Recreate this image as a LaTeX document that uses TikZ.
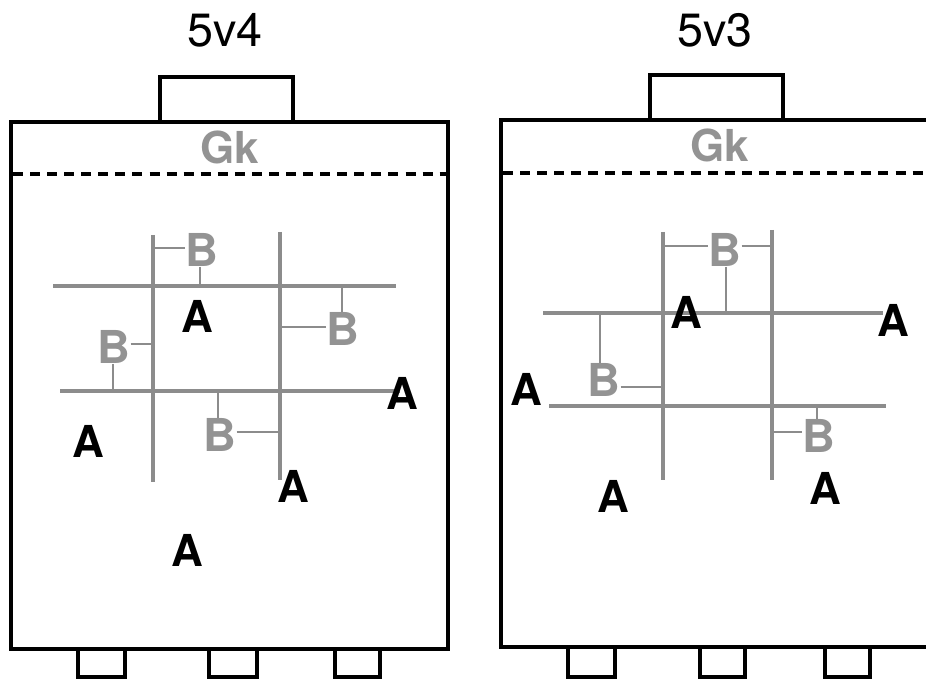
\documentclass[tikz,border=0pt]{standalone}
\usepackage{fontspec}
\setmainfont{TeX Gyre Heros}
\definecolor{gline}{HTML}{8C8C8C}
\definecolor{gtext}{HTML}{939393}
\tikzset{
  frame/.style={line width=3pt, black},
  dashsep/.style={line width=3.2pt, black, dash pattern=on 7.5pt off 5.3pt},
  gbar/.style={line width=2.4pt, gline},
  gtick/.style={line width=1.4pt, gline},
  albl/.style={inner sep=0pt, font=\fontsize{33}{33}\selectfont\bfseries, text=black},
  blbl/.style={inner sep=0pt, font=\fontsize{34}{34}\selectfont\bfseries, text=gtext},
  gklbl/.style={inner sep=0pt, font=\fontsize{33}{33}\selectfont\bfseries, text=gtext},
  ttl/.style={inner sep=0pt, font=\fontsize{35}{35}\selectfont, text=black},
}
\begin{document}
\begin{tikzpicture}[x=0.75pt,y=-0.75pt]
\useasboundingbox (0,0) rectangle (926,681);
\clip (0,0) rectangle (926,681);

% ---------------- Left panel: 5v4 ----------------
\node[ttl] (t1) at (225,30) {5v4};
\draw[frame] (11,122) rectangle (448,649);
\draw[frame] (160,122) -- (160,77) -- (293,77) -- (293,122);
\draw[frame] (78,649) -- (78,677) -- (125,677) -- (125,649);
\draw[frame] (209,649) -- (209,677) -- (257,677) -- (257,649);
\draw[frame] (335,649) -- (335,677) -- (380,677) -- (380,649);
\node[gklbl] (gk1) at (230,147) {Gk};
\coordinate (d1a) at (13,174);
\coordinate (d1b) at (446,174);
\draw[dashsep] (d1a) -- (d1b);

% gray grid
\coordinate (h1a) at (53,286);  \coordinate (h1b) at (396,286);
\coordinate (h2a) at (60,391);  \coordinate (h2b) at (400,391);
\coordinate (v1a) at (153,235); \coordinate (v1b) at (153,482);
\coordinate (v2a) at (280,232); \coordinate (v2b) at (280,480);
\draw[gbar] (h1a) -- (h1b);
\draw[gbar] (h2a) -- (h2b);
\draw[gbar] (v1a) -- (v1b);
\draw[gbar] (v2a) -- (v2b);

% B labels and their ticks
\node[blbl] (b11) at (202,250) {B};
\draw[gtick] (v1a |- 0,248) -- (b11.west |- 0,248);
\draw[gtick] (b11.south -| 200,0) -- (200,286);

\node[blbl] (b12) at (343,329) {B};
\draw[gtick] (342,286) -- (b12.north -| 342,0);
\draw[gtick] (280,327) -- (b12.west |- 0,327);

\node[blbl] (b13) at (114,347) {B};
\draw[gtick] (b13.east |- 0,344) -- (153,344);
\draw[gtick] (b13.south -| 113,0) -- (113,391);

\node[blbl] (b14) at (220,435) {B};
\draw[gtick] (218,391) -- (b14.north -| 218,0);
\draw[gtick] (b14.east |- 0,432) -- (280,432);

% A labels
\node[albl] (a11) at (197,316) {A};
\node[albl] (a12) at (402,393) {A};
\node[albl] (a13) at (88,441) {A};
\node[albl] (a14) at (293,486) {A};
\node[albl] (a15) at (187,550) {A};

% ---------------- Right panel: 5v3 ----------------
\node[ttl] (t2) at (715,30) {5v3};
\draw[frame] (940,120) -- (501,120) -- (501,647) -- (940,647);
\draw[frame] (650,120) -- (650,75) -- (783,75) -- (783,120);
\draw[frame] (568,647) -- (568,677) -- (615,677) -- (615,647);
\draw[frame] (700,647) -- (700,677) -- (745,677) -- (745,647);
\draw[frame] (825,647) -- (825,677) -- (870,677) -- (870,647);
\node[gklbl] (gk2) at (720,145) {Gk};
\coordinate (d2a) at (503,173);
\coordinate (d2b) at (930,173);
\draw[dashsep] (d2a) -- (d2b);

\coordinate (H1a) at (543,313); \coordinate (H1b) at (883,313);
\coordinate (H2a) at (549,406); \coordinate (H2b) at (886,406);
\coordinate (V1a) at (663,232); \coordinate (V1b) at (663,480);
\coordinate (V2a) at (772,230); \coordinate (V2b) at (772,480);
\draw[gbar] (H1a) -- (H1b);
\draw[gbar] (H2a) -- (H2b);
\draw[gbar] (V1a) -- (V1b);
\draw[gbar] (V2a) -- (V2b);

\node[blbl] (b21) at (725,250) {B};
\draw[gtick] (663,246) -- (b21.west |- 0,246);
\draw[gtick] (b21.east |- 0,246) -- (772,246);
\draw[gtick] (b21.south -| 726,0) -- (726,313);

\node[blbl] (b22) at (604,380) {B};
\draw[gtick] (600,313) -- (b22.north -| 600,0);
\draw[gtick] (b22.east |- 0,387) -- (663,387);

\node[blbl] (b23) at (819,436) {B};
\draw[gtick] (817,406) -- (b23.north -| 817,0);
\draw[gtick] (772,432) -- (b23.west |- 0,432);

\node[albl] (a21) at (686,312) {A};
\node[albl] (a22) at (893,320) {A};
\node[albl] (a23) at (526,389) {A};
\node[albl] (a24) at (613,496) {A};
\node[albl] (a25) at (825,488) {A};
\end{tikzpicture}
\end{document}
